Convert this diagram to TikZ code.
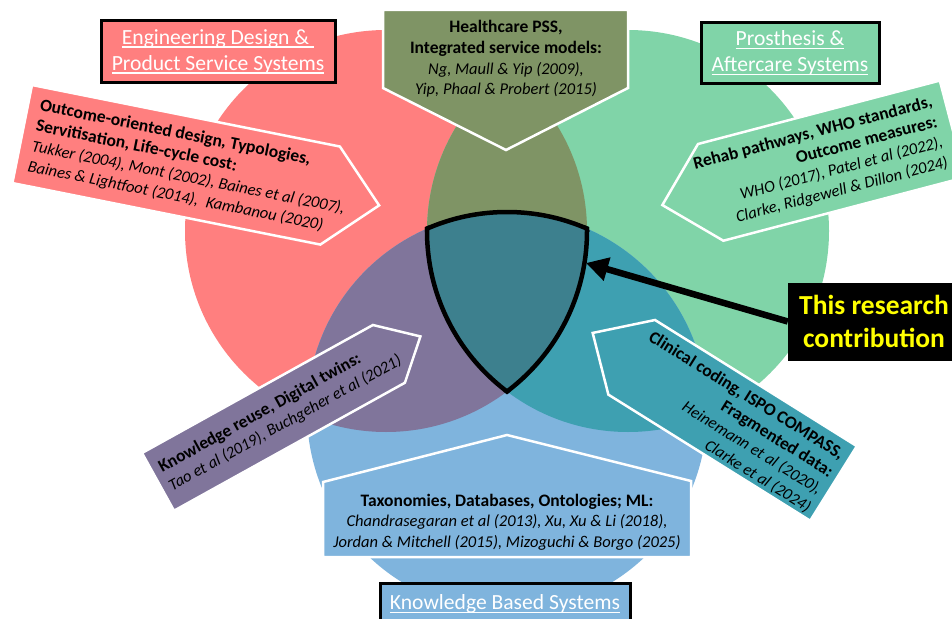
\documentclass[tikz,border=0pt]{standalone}
\usepackage{fontspec}
\setmainfont{Carlito}
\usetikzlibrary{arrows.meta}

% underline drawn as a rule under the text box
\newcommand{\ulbox}[1]{\leavevmode\setbox0=\hbox{#1}\rlap{\rule[-3.4pt]{\wd0}{1.3pt}}\box0}
% topic line and citation line inside the arms
\newcommand{\topic}[1]{{\fontsize{17.5}{20.7}\selectfont\bfseries #1}}
\newcommand{\refs}[1]{{\fontsize{16.5}{20.7}\selectfont\itshape #1}}

\definecolor{vred}{RGB}{255,127,127}
\definecolor{vgreen}{RGB}{128,212,168}
\definecolor{vblue}{RGB}{127,180,221}
\definecolor{volive}{RGB}{127,148,101}
\definecolor{vpurple}{RGB}{128,117,155}
\definecolor{vteal}{RGB}{62,160,177}
\definecolor{vcore}{RGB}{61,128,142}
\definecolor{vyellow}{RGB}{255,255,0}

\newcommand{\armfont}{\fontsize{17}{20.7}\selectfont}
\newcommand{\headfont}{\fontsize{21.6}{26}\selectfont}

\begin{document}
\begin{tikzpicture}[x=1pt,y=-1pt,
  armbox/.style={fill=#1, draw=white, line width=2.5pt, line join=miter},
  armtext/.style={inner sep=0pt, font=\armfont, text=black},
  labelbox/.style={draw=black, line width=3pt, fill=#1, text=white,
    font=\headfont, align=center, inner sep=0pt},
  rim/.style={line width=4.5pt, draw=black},
]
\useasboundingbox (0,0) rectangle (952,618);
\clip (0,0) rectangle (952,618);

% circle centres
\coordinate (cR) at (386,231);
\coordinate (cG) at (628,231);
\coordinate (cB) at (507,412);

% the three sets
\fill[vred]   (cR) circle[radius=201];
\fill[vgreen] (cG) circle[radius=201];
\fill[vblue]  (cB) circle[radius=200];

% pairwise overlaps
\begin{scope}
  \clip (cR) circle[radius=201];
  \fill[volive] (cG) circle[radius=201];
\end{scope}
\begin{scope}
  \clip (cR) circle[radius=201];
  \fill[vpurple] (cB) circle[radius=200];
\end{scope}
\begin{scope}
  \clip (cG) circle[radius=201];
  \fill[vteal] (cB) circle[radius=200];
\end{scope}

% common core
\begin{scope}
  \clip (cR) circle[radius=201];
  \clip (cG) circle[radius=201];
  \fill[vcore] (cB) circle[radius=200];
\end{scope}
\begin{scope}
  \clip (cG) circle[radius=203.25];
  \clip (cB) circle[radius=202.25];
  \draw[rim] (cR) circle[radius=201];
\end{scope}
\begin{scope}
  \clip (cR) circle[radius=203.25];
  \clip (cB) circle[radius=202.25];
  \draw[rim] (cG) circle[radius=201];
\end{scope}
\begin{scope}
  \clip (cR) circle[radius=203.25];
  \clip (cG) circle[radius=203.25];
  \draw[rim] (cB) circle[radius=200];
\end{scope}

% top arm: red & green overlap
\draw[armbox=volive] (383,10) -- (628,10) -- (628,88) -- (506,150) -- (383,88) -- cycle;
\node[armtext, align=center] (pss) at (506,59)
  {\topic{Healthcare PSS,}\\\topic{Integrated service models:}\\
   \refs{Ng, Maull \& Yip (2009),}\\\refs{Yip, Phaal \& Probert (2015)}};

% left arm: engineering design
\begin{scope}[shift={(32,85)}, rotate=-11.3, transform shape]
  \draw[armbox=vred] (0,0) -- (314,0) -- (364,50) -- (314,100) -- (0,100) -- cycle;
  \node[armtext, anchor=west, align=left] (outcome) at (12,50)
    {\topic{Outcome-oriented design, Typologies,}\\
     \topic{Servitisation, Life-cycle cost:}\\
     \refs{Tukker (2004), Mont (2002), Baines et al (2007),}\\
     \refs{Baines \& Lightfoot (2014),~ Kambanou (2020)}};
\end{scope}

% right arm: prosthesis & aftercare
\begin{scope}[shift={(698,144)}, rotate=14.7, transform shape]
  \draw[armbox=vgreen] (0,0) -- (250,0) -- (250,100) -- (0,100) -- (-50,50) -- cycle;
  \node[armtext, anchor=east, align=right] (rehab) at (237,50)
    {\topic{Rehab pathways, WHO standards,}\\
     \topic{Outcome measures:}\\
     \refs{WHO (2017), Patel et al (2022),}\\
     \refs{Clarke, Ridgewell \& Dillon (2024)}};
\end{scope}

% lower left arm: red & blue overlap
\begin{scope}[shift={(142,453)}, rotate=29, transform shape]
  \draw[armbox=vpurple] (0,0) -- (264,0) -- (300,33) -- (264,66) -- (0,66) -- cycle;
  \node[armtext, anchor=west, align=left] (reuse) at (8,33)
    {\topic{Knowledge reuse, Digital twins:}\\
     \refs{Tao et al (2019), Buchgeher et al (2021)}};
\end{scope}

% lower right arm: green & blue overlap
\begin{scope}[shift={(655,320)}, rotate=-32, transform shape]
  \draw[armbox=vteal] (0,0) -- (238,0) -- (238,88) -- (0,88) -- (-46,44) -- cycle;
  \node[armtext, anchor=east, align=right] (coding) at (231,47)
    {\topic{Clinical coding, ISPO COMPASS,}\\
     \topic{Fragmented data:}\\
     \refs{Heinemann et al (2020),}\\
     \refs{Clarke et al (2024)}};
\end{scope}

% bottom arm: knowledge based systems
\draw[armbox=vblue] (323,482) -- (507,435) -- (691,481) -- (691,557) -- (323,557) -- cycle;
\node[armtext, align=center] (kbs) at (507,522)
  {\topic{Taxonomies, Databases, Ontologies; ML:}\\
   \refs{Chandrasegaran et al (2013), Xu, Xu \& Li (2018),}\\
   \refs{Jordan \& Mitchell (2015), Mizoguchi \& Borgo (2025)}};

% set headings
\node[labelbox=vred, minimum width=234, minimum height=61] (engT) at (218,51.5)
  {\ulbox{Engineering Design \&\ }\\\ulbox{Product Service Systems}};
\node[labelbox=vgreen, minimum width=178, minimum height=60] (proT) at (790,53)
  {\ulbox{Prosthesis \&}\\\ulbox{Aftercare Systems}};
\node[labelbox=vblue, minimum width=250, minimum height=42] (kbsT) at (505,604)
  {\ulbox{Knowledge Based Systems}};

% contribution callout
\node[draw=black, fill=black, text=vyellow, align=center, inner sep=0pt,
  font=\bfseries\fontsize{27.5}{33}\selectfont,
  minimum width=172, minimum height=77] (contrib) at (874,321.5)
  {This research\\contribution};
\coordinate (lensR) at (586,263);
\draw[line width=6.5pt, -{Triangle[length=22pt,width=23pt]}] (contrib.west) -- (lensR);

\end{tikzpicture}
\end{document}
